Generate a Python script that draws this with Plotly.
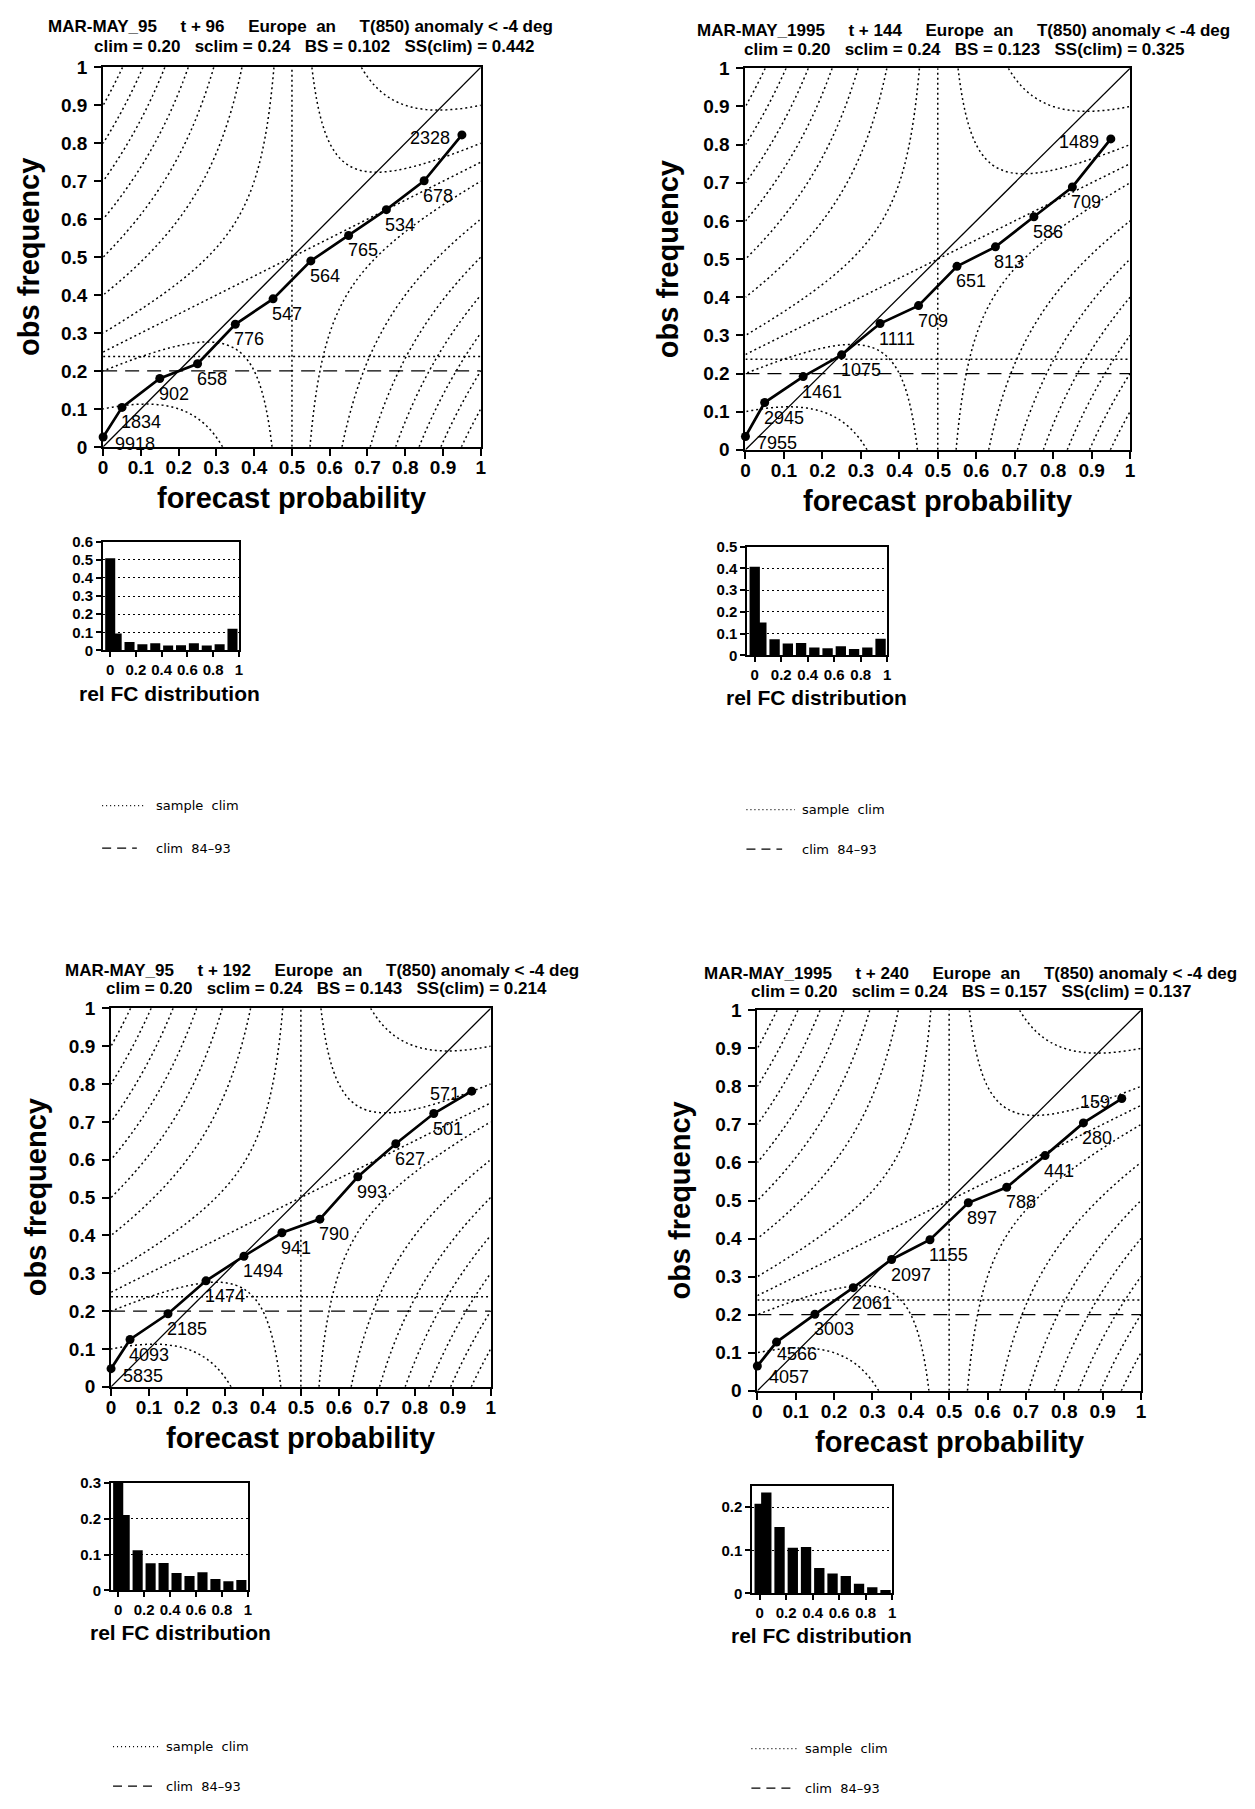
import numpy as np
import plotly.graph_objects as go

W, H = 1255, 1809

# ---------------------------------------------------------------- data
prob_bins = [0.0, 0.05, 0.15, 0.25, 0.35, 0.45, 0.55, 0.65, 0.75, 0.85, 0.95]

season_labels = ["MAR-MAY_95", "MAR-MAY_1995", "MAR-MAY_95", "MAR-MAY_1995"]
lead_times = [96, 144, 192, 240]

# observed relative frequency of the event in each probability bin
obs_t96 = [0.026, 0.104, 0.180, 0.219, 0.323, 0.390, 0.490, 0.557, 0.625, 0.701, 0.822]
obs_t144 = [0.035, 0.124, 0.192, 0.249, 0.331, 0.378, 0.481, 0.532, 0.611, 0.689, 0.815]
obs_t192 = [0.048, 0.125, 0.193, 0.280, 0.345, 0.407, 0.443, 0.555, 0.642, 0.722, 0.781]
obs_t240 = [0.065, 0.128, 0.201, 0.271, 0.345, 0.397, 0.494, 0.535, 0.618, 0.704, 0.768]

# number of forecasts falling in each probability bin
count_t96 = [9918, 1834, 902, 658, 776, 547, 564, 765, 534, 678, 2328]
count_t144 = [7955, 2945, 1461, 1075, 1111, 709, 651, 813, 586, 709, 1489]
count_t192 = [5835, 4093, 2185, 1474, 1494, 941, 790, 993, 627, 501, 571]
count_t240 = [4057, 4566, 3003, 2061, 2097, 1155, 897, 788, 441, 280, 159]

brier_scores = [0.102, 0.123, 0.143, 0.157]
skill_scores = [0.442, 0.325, 0.214, 0.137]
clim = 0.20

main_tickvals = [0, 0.1, 0.2, 0.3, 0.4, 0.5, 0.6, 0.7, 0.8, 0.9, 1]
main_ticktext = ["0", "0.1", "0.2", "0.3", "0.4", "0.5", "0.6", "0.7", "0.8", "0.9", "1"]
hist_xtickvals = [0, 0.2, 0.4, 0.6, 0.8, 1]
hist_xticktext = ["0", "0.2", "0.4", "0.6", "0.8", "1"]
hist_ytickvals = [
    [0, 0.1, 0.2, 0.3, 0.4, 0.5, 0.6],
    [0, 0.1, 0.2, 0.3, 0.4, 0.5],
    [0, 0.1, 0.2, 0.3],
    [0, 0.1, 0.2],
]
hist_ymax = [0.6, 0.5, 0.3, 0.25]

obs_sets = [obs_t96, obs_t144, obs_t192, obs_t240]
count_sets = [count_t96, count_t144, count_t192, count_t240]

# ---------------------------------------------------------------- page layout (pixels)
panels = [
    dict(main=(99, 58, 480, 442), hist=(99, 538, 236, 648),
         t1=(298, 17), t2=(312, 37), ytx=24, htitle=(166, 692),
         leg=dict(x0=98, dot_end=140, dash_end=133, tx=150, y1=805, y2=848)),
    dict(main=(747, 59, 1135, 445), hist=(749, 543, 890, 653),
         t1=(967, 21), t2=(967, 40), ytx=669, htitle=(819, 696),
         leg=dict(x0=748, dot_end=797, dash_end=784, tx=802, y1=809, y2=849)),
    dict(main=(107, 1010, 490, 1393), hist=(107, 1490, 245, 1599),
         t1=(320, 972), t2=(324, 990), ytx=31, htitle=(177, 1642),
         leg=dict(x0=109, dot_end=155, dash_end=152, tx=160, y1=1757, y2=1797)),
    dict(main=(759, 1012, 1146, 1397), hist=(754, 1493, 895, 1602),
         t1=(974, 975), t2=(975, 993), ytx=680, htitle=(824, 1645),
         leg=dict(x0=753, dot_end=800, dash_end=797, tx=805, y1=1759, y2=1799),
         label_nudge={0: (10, -11, "left"), 1: (-2, -12, "left")}),
]

FONT = "Liberation Sans"
LEGEND_FONT = "DejaVu Sans"
DOT = "2px,3px"
ISO_W = 1.5


def px_x(v):
    return v / W


def px_y(v):
    return 1 - v / H


def axis_ids(k):
    s = "" if k == 1 else str(k)
    return "x" + s, "y" + s, "xaxis" + s, "yaxis" + s


# Brier score isolines: expected score of forecast p when the event occurs with frequency o
grid = np.linspace(0, 1, 201)
PP, OO = np.meshgrid(grid, grid)
brier_field = PP ** 2 - 2 * OO * PP + OO
saddle_level = 0.25

fig = go.Figure()
annotations = []
shapes = []
layout_axes = {}

for i, pan in enumerate(panels):
    obs = obs_sets[i]
    counts = count_sets[i]
    total = sum(counts)
    sclim = sum(n * o for n, o in zip(counts, obs)) / total
    rel_freq = [n / total for n in counts]

    xm, ym, xma, yma = axis_ids(2 * i + 1)
    xh, yh, xha, yha = axis_ids(2 * i + 2)

    # --- isolines of the Brier score
    fig.add_trace(go.Contour(
        x=grid, y=grid, z=brier_field, xaxis=xm, yaxis=ym,
        contours=dict(start=0.1, end=0.91, size=0.1, coloring="none", showlabels=False),
        line=dict(color="black", width=ISO_W, dash=DOT, smoothing=1),
        showscale=False, hoverinfo="skip", showlegend=False,
    ))
    # the saddle level splits into two straight lines
    fig.add_trace(go.Scatter(
        x=[0.5, 0.5], y=[0, 1], xaxis=xm, yaxis=ym, mode="lines",
        line=dict(color="black", width=ISO_W, dash=DOT), hoverinfo="skip", showlegend=False))
    fig.add_trace(go.Scatter(
        x=[0, 1], y=[(0 + 2 * saddle_level) / 2, (1 + 2 * saddle_level) / 2],
        xaxis=xm, yaxis=ym, mode="lines",
        line=dict(color="black", width=ISO_W, dash=DOT), hoverinfo="skip", showlegend=False))
    # sample climate
    fig.add_trace(go.Scatter(
        x=[0, 1], y=[sclim, sclim], xaxis=xm, yaxis=ym, mode="lines",
        line=dict(color="black", width=ISO_W, dash=DOT), hoverinfo="skip", showlegend=False))
    # long-term climate
    fig.add_trace(go.Scatter(
        x=[0, 1], y=[clim, clim], xaxis=xm, yaxis=ym, mode="lines",
        line=dict(color="black", width=1.3, dash="14px,8px"), hoverinfo="skip", showlegend=False))
    # perfect reliability
    fig.add_trace(go.Scatter(
        x=[0, 1], y=[0, 1], xaxis=xm, yaxis=ym, mode="lines",
        line=dict(color="black", width=1.3), hoverinfo="skip", showlegend=False))
    # reliability curve
    fig.add_trace(go.Scatter(
        x=prob_bins, y=obs, xaxis=xm, yaxis=ym, mode="lines+markers",
        line=dict(color="black", width=2.7),
        marker=dict(color="black", size=9, symbol="circle"),
        cliponaxis=False, hoverinfo="skip", showlegend=False))

    # --- relative forecast distribution
    fig.add_trace(go.Bar(
        x=prob_bins, y=rel_freq, xaxis=xh, yaxis=yh, width=0.078,
        marker=dict(color="black", line=dict(width=0)),
        hoverinfo="skip", showlegend=False))

    l, t, r, b = pan["main"]
    tickfont = dict(family=FONT, size=19, color="black", weight=700)
    layout_axes[xma] = dict(
        domain=[px_x(l), px_x(r)], anchor=ym, range=[0, 1],
        tickvals=main_tickvals, ticktext=main_ticktext, tickfont=tickfont,
        showline=True, linewidth=2, linecolor="black", mirror=True,
        ticks="outside", ticklen=7, tickwidth=1.5, tickcolor="black",
        ticklabelstandoff=-5,
        showgrid=False, zeroline=False, fixedrange=True)
    layout_axes[yma] = dict(
        domain=[px_y(b), px_y(t)], anchor=xm, range=[0, 1],
        tickvals=main_tickvals, ticktext=main_ticktext, tickfont=tickfont,
        showline=True, linewidth=2, linecolor="black", mirror=True,
        ticks="outside", ticklen=7, tickwidth=1.5, tickcolor="black",
        ticklabelstandoff=3,
        showgrid=False, zeroline=False, fixedrange=True)

    hl, ht, hr, hb = pan["hist"]
    hfont = dict(family=FONT, size=15, color="black", weight=700)
    layout_axes[xha] = dict(
        domain=[px_x(hl), px_x(hr)], anchor=yh, range=[-0.055, 1.0],
        tickvals=hist_xtickvals, ticktext=hist_xticktext, tickfont=hfont,
        showline=True, linewidth=2, linecolor="black", mirror=True,
        ticks="outside", ticklen=5, tickwidth=1.5, tickcolor="black",
        showgrid=False, zeroline=False, fixedrange=True)
    layout_axes[yha] = dict(
        domain=[px_y(hb), px_y(ht)], anchor=xh, range=[0, hist_ymax[i]],
        tickvals=hist_ytickvals[i],
        ticktext=["0" if v == 0 else f"{v:g}" for v in hist_ytickvals[i]],
        tickfont=hfont,
        showline=True, linewidth=2, linecolor="black", mirror=True,
        ticks="outside", ticklen=5, tickwidth=1.5, tickcolor="black",
        showgrid=True, gridcolor="black", gridwidth=1.3, griddash="2px,3px",
        zeroline=False, fixedrange=True)

    # --- count labels next to each point
    nudge = pan.get("label_nudge", {})
    for j, (pb, o, n) in enumerate(zip(prob_bins, obs, counts)):
        if j in nudge:
            xs, ys, xa = nudge[j]
        elif j == 0:
            xs, ys, xa = 10, -7, "left"
        elif j == len(prob_bins) - 1:
            xs, ys, xa = -10, -3, "right"
        else:
            xs, ys, xa = -3, -15, "left"
        annotations.append(dict(
            x=pb, y=o, xref=xm, yref=ym, text=str(n), showarrow=False,
            xanchor=xa, yanchor="middle", xshift=xs, yshift=ys,
            font=dict(family=FONT, size=18, color="black")))

    # --- titles
    gap5 = "\u00a0" * 5
    gap3 = "\u00a0" * 3
    line1 = (f"{season_labels[i]}{gap5}t + {lead_times[i]}{gap5}Europe\u00a0\u00a0an"
             f"{gap5}T(850) anomaly &lt; -4 deg")
    line2 = (f"clim = {clim:.2f}{gap3}sclim = {sclim:.2f}{gap3}BS = {brier_scores[i]:.3f}"
             f"{gap3}SS(clim) = {skill_scores[i]:.3f}")
    for (cx, cy), txt in ((pan["t1"], line1), (pan["t2"], line2)):
        annotations.append(dict(
            x=px_x(cx), y=px_y(cy), xref="paper", yref="paper", text=txt,
            showarrow=False, xanchor="center", yanchor="middle",
            font=dict(family=FONT, size=17, color="black", weight=700)))

    # axis titles
    annotations.append(dict(
        x=px_x((l + r) / 2), y=px_y(b + 52), xref="paper", yref="paper",
        text="forecast probability", showarrow=False, xanchor="center", yanchor="middle",
        font=dict(family=FONT, size=29, color="black", weight=700)))
    annotations.append(dict(
        x=px_x(pan["ytx"]), y=px_y((t + b) / 2), xref="paper", yref="paper",
        text="obs frequency", showarrow=False, textangle=-90,
        xanchor="center", yanchor="middle",
        font=dict(family=FONT, size=29, color="black", weight=700)))
    hx, hy = pan["htitle"]
    annotations.append(dict(
        x=px_x(hx), y=px_y(hy), xref="paper", yref="paper",
        text="rel FC distribution", showarrow=False, xanchor="center", yanchor="middle",
        font=dict(family=FONT, size=21, color="black", weight=700)))

    # --- line-style key
    lg = pan["leg"]
    shapes.append(dict(type="line", xref="paper", yref="paper",
                       x0=px_x(lg["x0"]), x1=px_x(lg["dot_end"]),
                       y0=px_y(lg["y1"]), y1=px_y(lg["y1"]),
                       line=dict(color="black", width=1.2, dash="1px,3px")))
    shapes.append(dict(type="line", xref="paper", yref="paper",
                       x0=px_x(lg["x0"]), x1=px_x(lg["dash_end"]),
                       y0=px_y(lg["y2"]), y1=px_y(lg["y2"]),
                       line=dict(color="black", width=1.2, dash="9px,6px")))
    for yy, txt in ((lg["y1"], "sample\u00a0\u00a0clim"), (lg["y2"], "clim\u00a0\u00a084\u201393")):
        annotations.append(dict(
            x=px_x(lg["tx"]), y=px_y(yy), xref="paper", yref="paper", text=txt,
            showarrow=False, xanchor="left", yanchor="middle",
            font=dict(family=LEGEND_FONT, size=13, color="black")))

fig.update_layout(
    width=W, height=H, margin=dict(l=0, r=0, t=0, b=0, pad=0),
    paper_bgcolor="white", plot_bgcolor="white",
    showlegend=False, barmode="overlay",
    annotations=annotations, shapes=shapes,
    **layout_axes,
)

fig.write_html("out.html", config={"displayModeBar": False})
